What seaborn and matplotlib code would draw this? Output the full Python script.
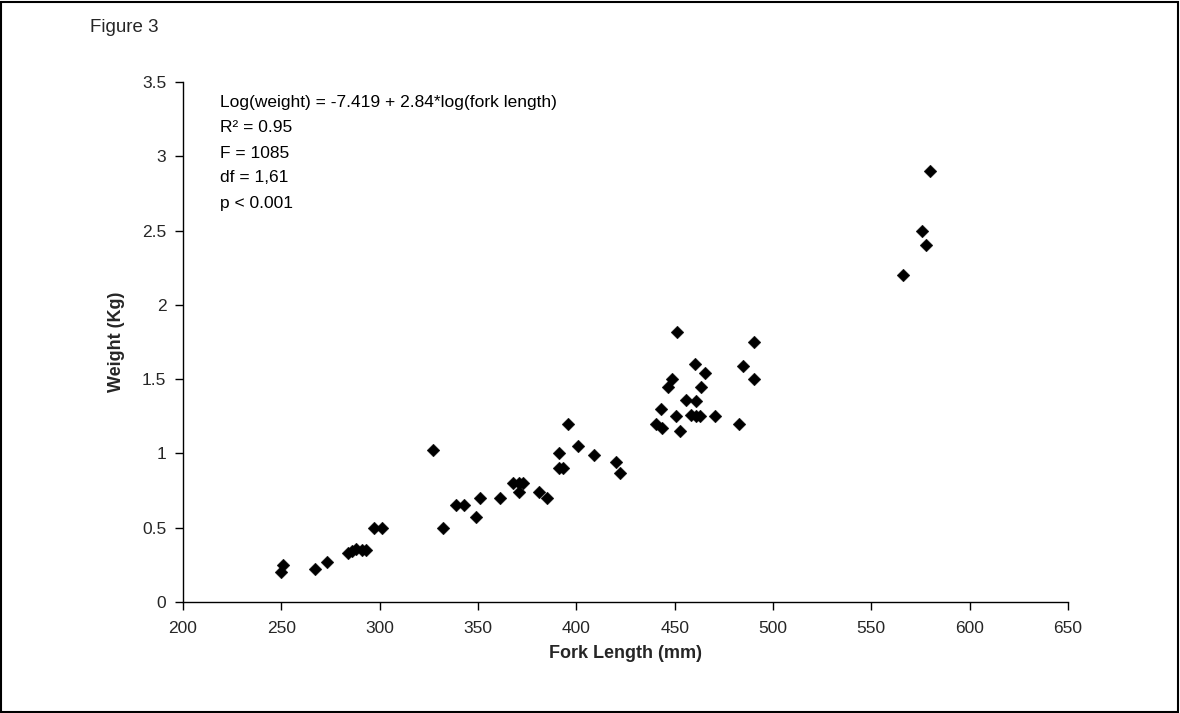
import matplotlib
matplotlib.use("Agg")
import matplotlib.pyplot as plt
import seaborn as sns
import pandas as pd
from matplotlib.patches import Rectangle

# Data
fork_length = [250, 251, 267, 273, 284, 286, 288, 291, 293, 297, 301,
               327, 332, 339, 343, 349, 351, 361, 368, 371, 373, 371,
               381, 385, 391, 391, 393, 396, 401, 409, 420, 422,
               451, 490.5, 460.5, 484.6, 465.6, 448.7, 446.5, 490.5, 463.4,
               455.8, 460.9, 442.8, 450.9, 458.5, 461.1, 462.7, 470.7,
               440.7, 443.6, 452.6, 482.5,
               580, 576, 578, 566]
weight = [0.20, 0.25, 0.22, 0.27, 0.33, 0.34, 0.36, 0.35, 0.35, 0.50, 0.50,
          1.02, 0.50, 0.65, 0.65, 0.57, 0.70, 0.70, 0.80, 0.80, 0.80, 0.74,
          0.74, 0.70, 1.00, 0.90, 0.90, 1.20, 1.05, 0.99, 0.94, 0.87,
          1.82, 1.75, 1.60, 1.59, 1.54, 1.50, 1.45, 1.50, 1.45,
          1.36, 1.35, 1.30, 1.25, 1.26, 1.25, 1.25, 1.25,
          1.20, 1.17, 1.15, 1.20,
          2.90, 2.50, 2.40, 2.20]

x_ticks = [200, 250, 300, 350, 400, 450, 500, 550, 600, 650]
y_ticks = [0, 0.5, 1, 1.5, 2, 2.5, 3, 3.5]
y_tick_labels = ["0", "0.5", "1", "1.5", "2", "2.5", "3", "3.5"]
stats_lines = ["Log(weight) = -7.419 + 2.84*log(fork length)",
               "R\u00b2 = 0.95", "F = 1085", "df = 1,61", "p < 0.001"]

df = pd.DataFrame({"Fork Length (mm)": fork_length, "Weight (Kg)": weight})

sns.set_theme(style="white")
plt.rcParams["font.family"] = ["Liberation Sans", "DejaVu Sans"]

fig = plt.figure(figsize=(11.8, 7.13), dpi=100)
ax = fig.add_axes([183 / 1180, 1 - 602 / 713, (1068 - 183) / 1180, (602 - 82) / 713])

sns.scatterplot(data=df, x="Fork Length (mm)", y="Weight (Kg)", ax=ax,
                marker="D", s=42, color="black", edgecolor="black", linewidth=0.3)

ax.set_xlim(200, 650)
ax.set_ylim(0, 3.5)
ax.set_xticks(x_ticks)
ax.set_xticklabels([str(t) for t in x_ticks], fontsize=12.5)
ax.set_yticks(y_ticks)
ax.set_yticklabels(y_tick_labels, fontsize=12.5)
ax.tick_params(axis="both", direction="out", length=6, width=1, color="black",
               bottom=True, left=True)
ax.tick_params(axis="y", pad=6)
ax.tick_params(axis="x", pad=8)
for side in ["top", "right"]:
    ax.spines[side].set_visible(False)
for side in ["left", "bottom"]:
    ax.spines[side].set_color("black")
    ax.spines[side].set_linewidth(1)

ax.set_xlabel("Fork Length (mm)", fontsize=13, fontweight="bold", labelpad=6)
ax.set_ylabel("Weight (Kg)", fontsize=13, fontweight="bold", labelpad=12)

for i, line in enumerate(stats_lines):
    fig.text(220 / 1180, 1 - (103 + 25 * i) / 713, line, fontsize=12.5,
             ha="left", va="center", color="black")

fig.text(90 / 1180, 1 - 28 / 713, "Figure 3", fontsize=13.5, ha="left", va="center")

fig.patches.append(Rectangle((0.001, 0.0015), 0.997, 0.996, transform=fig.transFigure,
                             fill=False, edgecolor="black", linewidth=1.5))

fig.savefig("out.png", dpi=100, facecolor="white")
